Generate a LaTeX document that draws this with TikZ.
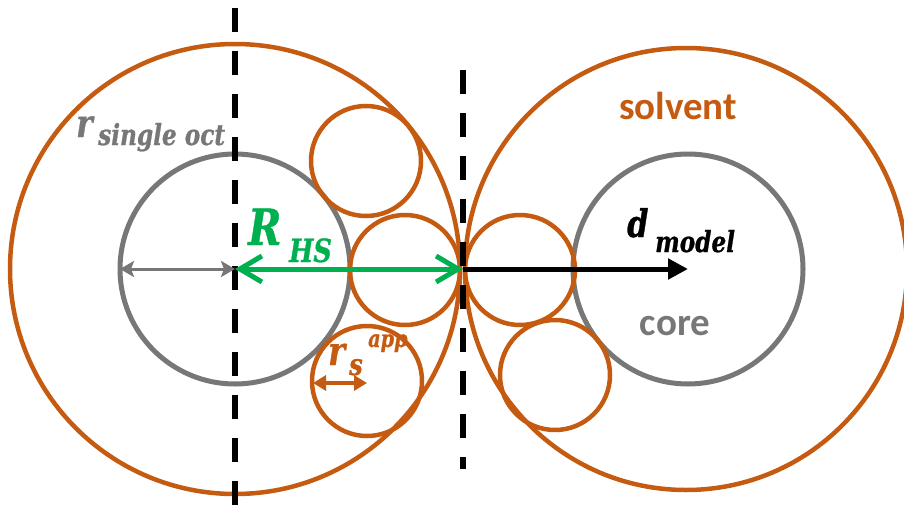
\documentclass[tikz,border=0pt]{standalone}
\usepackage{fontspec}
\setmainfont{Carlito}
\newfontfamily\mfont{DejaVu Serif}[FakeStretch=0.8,FakeBold=0.8]
\usetikzlibrary{arrows.meta}
\definecolor{orng}{HTML}{C55A11}
\definecolor{gry}{HTML}{777777}
\definecolor{grn}{HTML}{00B050}
\tikzset{
  solv/.style={draw=orng,line width=4.5pt},
  corec/.style={draw=gry,line width=5pt},
  dashline/.style={draw=black,line width=5.5pt,dash pattern=on 24pt off 19pt},
  word/.style={inner sep=0pt,font=\fontsize{39}{41}\selectfont\bfseries},
  mt/.style={inner sep=0pt,anchor=base west}
}
\newcommand{\mf}[1]{\mfont\bfseries\itshape\fontsize{#1}{#1}\selectfont}
\begin{document}
\begin{tikzpicture}[x=1pt,y=-1pt]
\useasboundingbox (0,0) rectangle (904,506);
% centres
\coordinate (cL) at (235,269);
\coordinate (cR) at (686,269);
\coordinate (coreR) at (688,269);
\coordinate (contact) at (463,269);
\coordinate (coreLedge) at (120,269);
% solvent shells
\draw[solv] (cL) circle[radius=225];
\draw[solv] (cR) circle[radius=221];
% cores
\draw[corec] (cL) circle[radius=115];
\draw[corec] (coreR) circle[radius=115];
% solvent molecules
\draw[solv] (366,161) circle[radius=55];
\draw[solv] (405,270) circle[radius=55];
\draw[solv] (367,381) circle[radius=55];
\draw[solv] (520,270) circle[radius=55];
\draw[solv] (555,375) circle[radius=55];
% dashed lines
\coordinate (dLt) at (235,8);
\coordinate (dLb) at (235,506);
\coordinate (dRt) at (463,70);
\coordinate (dRb) at (463,469);
\draw[dashline,line width=6pt] (dLt) -- (dLb);
\draw[dashline] (dRt) -- (dRb);
% arrows
\draw[gry,line width=3pt,{Stealth[length=14pt,width=16pt,inset=3pt]}-{Stealth[length=14pt,width=16pt,inset=3pt]}] (coreLedge) -- (cL);
\draw[black,line width=5pt,-{Triangle[length=20pt,width=20pt]}] (contact) -- (coreR);
\draw[grn,line width=5pt,{Straight Barb[length=22pt,width=26pt]}-{Straight Barb[length=22pt,width=26pt]}] (cL) -- (contact);
\coordinate (rsA) at (313,383);
\coordinate (rsB) at (367,383);
\draw[orng,line width=4pt,{Triangle[length=13pt,width=15pt]}-{Triangle[length=13pt,width=15pt]}] (rsA) -- (rsB);
% words
\node[word,text=orng] (solvent) at (678,106) {solvent};
\node[word,text=gry] (core) at (675,326) {core};
% math-like labels
\node[mt,text=gry,font=\mf{39}] (r1) at (76,137) {r};
\node[mt,text=gry,font=\mf{29}] (r1sub) at (98,145) {single oct};
\node[mt,text=grn,font=\mf{50}] (R1) at (248,245) {R};
\node[mt,text=grn,font=\mf{32}] (R1sub) at (289,262) {HS};
\node[mt,text=black,font=\mf{38}] (d1) at (627,237) {d};
\node[mt,text=black,font=\mf{29}] (d1sub) at (655,252) {model};
\node[mt,text=orng,font=\mf{40}] (r2) at (328,365) {r};
\node[mt,text=orng,font=\mf{30}] (r2sub) at (349,375) {s};
\node[mt,text=orng,font=\mf{24}] (r2sup) at (368,347) {app};
\end{tikzpicture}
\end{document}
